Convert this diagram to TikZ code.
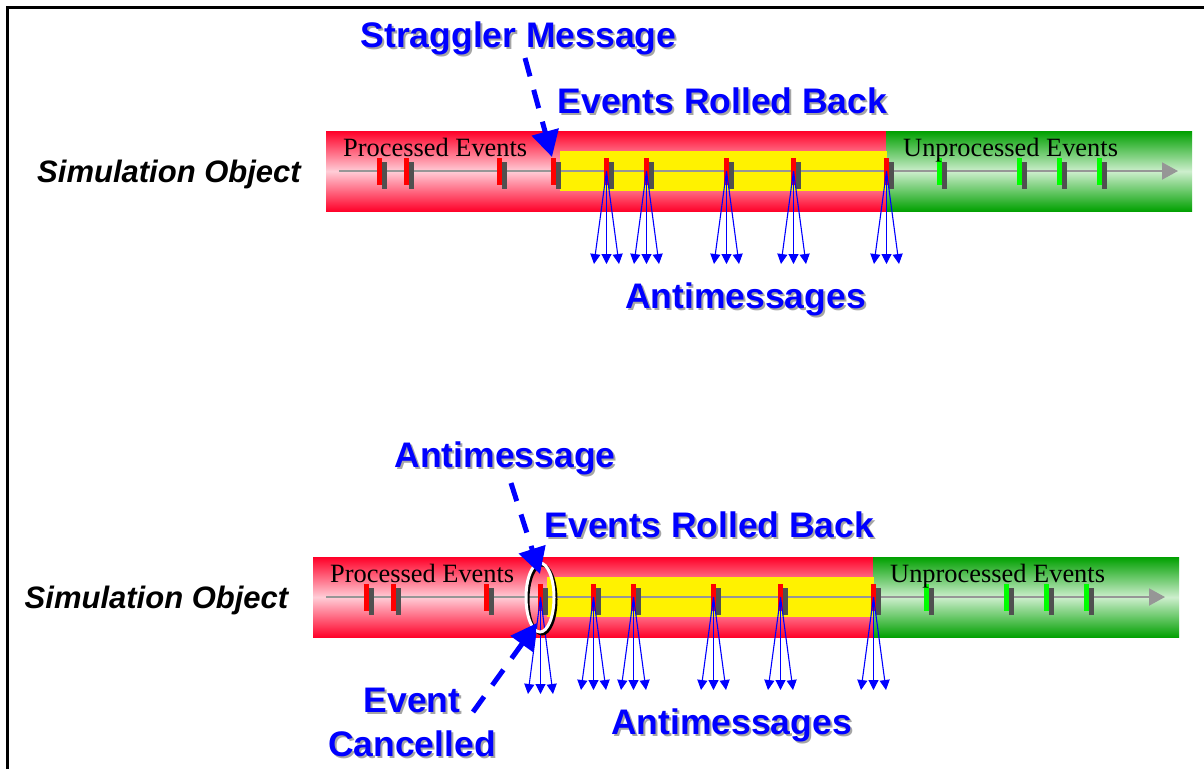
\documentclass[tikz,border=0pt]{standalone}
\usepackage{fontspec}
\setmainfont{Liberation Sans}
\newfontfamily\seriffont{Liberation Serif}
\usetikzlibrary{arrows.meta}
\definecolor{barred}{RGB}{255,0,40}
\definecolor{barpink}{RGB}{255,205,215}
\definecolor{bargreen}{RGB}{0,160,0}
\definecolor{barlightgreen}{RGB}{205,238,205}
\definecolor{axisgray}{RGB}{150,150,150}
\definecolor{markgray}{RGB}{80,80,80}
\definecolor{lblblue}{RGB}{0,0,255}
\definecolor{shadowgray}{RGB}{165,165,165}
\definecolor{evred}{RGB}{255,0,0}
\definecolor{evgreen}{RGB}{0,255,0}

\newcommand\shlabel[4]{%
  \node[lblshadow] (#1-s) at (#2+2,#3+2) {#4};
  \node[lbl] (#1) at (#2,#3) {#4};}

\newcommand\drawrow[1]{%
  \shade[redbar] (326,131) rectangle (886,211.5);
  \shade[greenbar] (886,131) rectangle (1192,211.5);
  \fill[yellow] (560,151) rectangle (887,191);
  \coordinate (#1-axs) at (339,171);
  \coordinate (#1-axe) at (1178,171);
  \draw[axisline] (#1-axs) -- (#1-axe);
  \foreach \n/\x in {1/377,2/404,3/497,4/551,5/604,6/644,7/724,8/791,9/884}{
    \fill[markgray] (\x+5,162) rectangle (\x+10,189);
    \fill[evred] (\x,158) rectangle (\x+5,185);
    \coordinate (#1-e\n) at (\x+2.5,171);}
  \foreach \n/\x in {10/937,11/1017,12/1057,13/1097}{
    \fill[markgray] (\x+5,162) rectangle (\x+10,189);
    \fill[evgreen] (\x,158) rectangle (\x+5,185);
    \coordinate (#1-e\n) at (\x+2.5,171);}
  \foreach \n/\x in {5/604,6/644,7/724,8/791,9/884}{
    \foreach \k/\d in {1/-12.5,2/0,3/12.5}{
      \coordinate (#1-a\n-\k) at (\x+2.5+\d,264);
      \draw[anti] (#1-e\n) -- (#1-a\n-\k);}}
  \node[barlbl] (#1-proc) at (343,156) {Processed Events};
  \node[barlbl] (#1-unproc) at (903,156) {Unprocessed Events};
}

\begin{document}
\begin{tikzpicture}[x=1pt,y=-1pt,
  lbl/.style={font=\fontsize{35.5}{40}\selectfont\bfseries, text=lblblue, inner sep=0pt, anchor=base},
  lblshadow/.style={lbl, text=shadowgray},
  simobj/.style={font=\fontsize{31}{36}\selectfont\bfseries\itshape, inner sep=0pt, anchor=base},
  barlbl/.style={font=\seriffont\fontsize{26.4}{30}\selectfont, inner sep=0pt, anchor=base west},
  redbar/.style={top color=barred, bottom color=barred, middle color=barpink},
  greenbar/.style={top color=bargreen, bottom color=bargreen, middle color=barlightgreen},
  axisline/.style={axisgray, line width=2pt, -{Triangle[length=16pt,width=17pt]}},
  anti/.style={lblblue, line width=1.1pt, -{Triangle[length=10pt,width=10pt]}},
  bigdash/.style={lblblue, line width=5pt, dash pattern=on 19pt off 14pt, -{Triangle[length=26pt,width=27pt]}},
]
\useasboundingbox (0,0) rectangle (1204,769);
\fill[white] (0,0) rectangle (1204,769);
\draw[line width=3pt] (7.5,769) -- (7.5,7.5) -- (1204,7.5);

% top row
\drawrow{t}
% bottom row
\begin{scope}[shift={(-13,426)}]
\drawrow{b}
\foreach \k/\d in {1/-12.5,2/0,3/12.5}{
  \coordinate (b-c\k) at (553.5+\d,268);
  \draw[anti] (b-e4) -- (b-c\k);}
\end{scope}

% cancelled ring
\draw[black, line width=3pt] (542,599.5) ellipse [x radius=14, y radius=34.5];
\draw[white, line width=3pt] (540,597.5) ellipse [x radius=14, y radius=34.5];

% labels
\shlabel{strag}{518.5}{47}{Straggler Message}
\shlabel{t-erb}{722.5}{113}{Events Rolled Back}
\shlabel{t-anti}{745.5}{308}{Antimessages}
\node[simobj] (t-sim) at (169,182) {Simulation Object};

\shlabel{b-antimsg}{505}{467}{Antimessage}
\shlabel{b-erb}{709.5}{537}{Events Rolled Back}
\shlabel{b-anti}{731.5}{734}{Antimessages}
\shlabel{evt}{412}{712}{Event}
\shlabel{canc}{412}{756}{Cancelled}
\node[simobj] (b-sim) at (156.5,608) {Simulation Object};

% dashed arrows
\coordinate (strag-s) at (525,58);
\coordinate (strag-e) at (552,157);
\draw[bigdash] (strag-s) -- (strag-e);
\coordinate (am-s) at (511,483);
\coordinate (am-e) at (540,574);
\draw[bigdash] (am-s) -- (am-e);
\coordinate (ec-s) at (473,712);
\coordinate (ec-e) at (537,623);
\draw[bigdash] (ec-s) -- (ec-e);
\end{tikzpicture}
\end{document}
